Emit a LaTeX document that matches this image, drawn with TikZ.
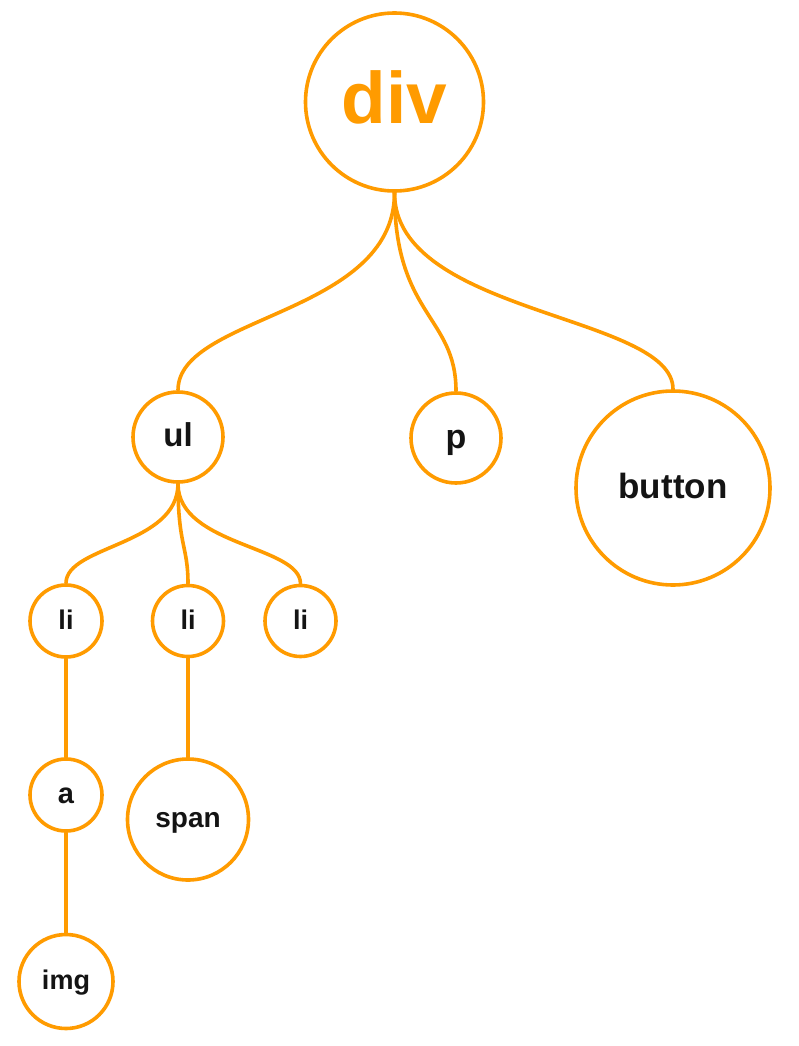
\documentclass[tikz,border=0pt]{standalone}
\usepackage{fontspec}
\setmainfont{Liberation Sans}
\usetikzlibrary{calc}
\definecolor{treeorange}{RGB}{255,155,0}
\definecolor{treeink}{RGB}{20,20,20}
\newcommand\treelink[2]{\draw[link] (#1.south) .. controls ($(#1.south)!0.62!(#1.south |- #2.north)$) and ($(#2.north)!0.38!(#2.north |- #1.south)$) .. (#2.north);}
\newcommand\fs[1]{\fontsize{#1}{#1}\selectfont\bfseries}
\tikzset{
  tnode/.style={circle, draw=treeorange, line width=3.6pt, inner sep=0pt, text=treeink, fill=white, text depth=0pt},
  link/.style={draw=treeorange, line width=3.6pt, line cap=round}
}
\begin{document}
\begin{tikzpicture}[x=1pt,y=-1pt]
\useasboundingbox (0,0) rectangle (798,1046);
\node[tnode, minimum size=178pt, text=treeorange, font=\fs{73}, text height=43.8pt] (div) at (394.5,102) {div};
\node[tnode, minimum size=90pt, font=\fs{33}, text height=19.8pt] (ul) at (178,437) {ul};
\node[tnode, minimum size=90pt, font=\fs{34}, text height=20.4pt] (p) at (456,438) {p};
\node[tnode, minimum size=194pt, font=\fs{35}, text height=21pt] (button) at (673,488) {button};
\node[tnode, minimum size=72pt, font=\fs{27}, text height=16.2pt] (li1) at (66,621) {li};
\node[tnode, minimum size=71pt, font=\fs{27}, text height=16.2pt] (li2) at (188,621) {li};
\node[tnode, minimum size=71pt, font=\fs{27}, text height=16.2pt] (li3) at (300.5,621) {li};
\node[tnode, minimum size=72pt, font=\fs{29}, text height=17.4pt] (a) at (66,795) {a};
\node[tnode, minimum size=121pt, font=\fs{28}, text height=16.8pt] (span) at (188,819.5) {span};
\node[tnode, minimum size=94pt, font=\fs{27}, text height=16.2pt] (img) at (66,981.5) {img};
\treelink{div}{ul}
\treelink{div}{p}
\treelink{div}{button}
\treelink{ul}{li1}
\treelink{ul}{li2}
\treelink{ul}{li3}
\draw[link] (li1.south) -- (a.north);
\draw[link] (li2.south) -- (span.north);
\draw[link] (a.south) -- (img.north);
\end{tikzpicture}
\end{document}
